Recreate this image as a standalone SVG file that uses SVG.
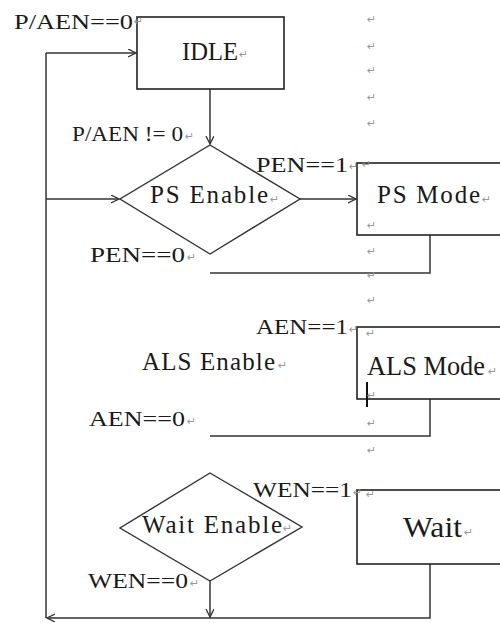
<svg xmlns="http://www.w3.org/2000/svg" width="500" height="623" viewBox="0 0 500 623">
<style>
.ln{fill:none;stroke:#333;stroke-width:1.5}
.bx{fill:#fff;stroke:#222;stroke-width:1.6}
.dm{fill:none;stroke:#333;stroke-width:1.4}
.lb{font-family:"Liberation Serif","Times New Roman",serif;fill:#1a1a1a;font-size:22px}
.nd{font-family:"Liberation Serif","Times New Roman",serif;fill:#1a1a1a;font-size:25px}
.big{font-family:"Liberation Serif","Times New Roman",serif;fill:#1a1a1a;font-size:29px}
.pm{font-family:"DejaVu Sans",sans-serif;fill:#999;font-size:11px}
</style>
<defs>
<marker id="ah" markerWidth="10" markerHeight="10" refX="8" refY="4" orient="auto" markerUnits="userSpaceOnUse">
<path d="M0,0 L8,4 L0,8" fill="none" stroke="#333" stroke-width="1.3"/>
</marker>
</defs>
<rect width="500" height="623" fill="#fff"/>

<g id="connectors">
<path class="ln" d="M46,53 H136" marker-end="url(#ah)"/>
<path class="ln" d="M210,89 V144" marker-end="url(#ah)"/>
<path class="ln" d="M46,199 H119" marker-end="url(#ah)"/>
<path class="ln" d="M300,199 H356" marker-end="url(#ah)"/>
<path class="ln" d="M430,235 V273 H210"/>
<path class="ln" d="M430,399 V436 H210"/>
<path class="ln" d="M210,581 V617" marker-end="url(#ah)"/>
<path class="ln" d="M430,564 V618 H47" marker-end="url(#ah)"/>
<path class="ln" d="M46,618 V53"/>
</g>

<g id="idle">
<rect class="bx" x="137" y="17" width="147" height="72"/>
<text class="nd" x="182" y="60" textLength="56" lengthAdjust="spacingAndGlyphs">IDLE</text>
</g>
<g id="ps-enable">
<path class="dm" d="M210,145 L300,199 L210,254 L120,199 Z"/>
<text class="nd" x="150" y="203" textLength="118" lengthAdjust="spacing">PS Enable</text>
</g>
<g id="ps-mode">
<rect class="bx" x="357" y="163" width="160" height="72"/>
<text class="nd" x="377" y="203" textLength="103" lengthAdjust="spacing">PS Mode</text>
</g>
<g id="als-enable">
<text class="nd" x="142" y="370" textLength="133" lengthAdjust="spacing">ALS Enable</text>
</g>
<g id="als-mode">
<rect class="bx" x="357" y="327" width="160" height="72"/>
<text class="big" x="367" y="375" style="font-size:26.5px" textLength="118" lengthAdjust="spacingAndGlyphs">ALS Mode</text>
<line x1="367" y1="382" x2="367" y2="407" stroke="#111" stroke-width="2"/>
</g>
<g id="wait-enable">
<path class="dm" d="M210,473 L302,527 L210,581 L120,528 Z"/>
<text class="nd" x="142" y="533" textLength="140" lengthAdjust="spacing">Wait Enable</text>
</g>
<g id="wait">
<rect class="bx" x="357" y="490" width="160" height="74"/>
<text class="big" x="403" y="537" textLength="59" lengthAdjust="spacingAndGlyphs">Wait</text>
</g>

<g id="labels">
<text class="lb" x="14" y="29" textLength="119" lengthAdjust="spacingAndGlyphs">P/AEN==0</text>
<text class="lb" x="72" y="141" textLength="111" lengthAdjust="spacingAndGlyphs">P/AEN != 0</text>
<text class="lb" x="256" y="172" textLength="92" lengthAdjust="spacingAndGlyphs">PEN==1</text>
<text class="lb" x="90" y="262" textLength="95" lengthAdjust="spacingAndGlyphs">PEN==0</text>
<text class="lb" x="256" y="334" textLength="92" lengthAdjust="spacingAndGlyphs">AEN==1</text>
<text class="lb" x="89" y="426" textLength="96" lengthAdjust="spacingAndGlyphs">AEN==0</text>
<text class="lb" x="253" y="497" textLength="99" lengthAdjust="spacingAndGlyphs">WEN==1</text>
<text class="lb" x="88" y="588" textLength="100" lengthAdjust="spacingAndGlyphs">WEN==0</text>
</g>

<g id="paragraph-marks">
<text class="pm" x="134" y="25">↵</text>
<text class="pm" x="239" y="58">↵</text>
<text class="pm" x="185" y="140">↵</text>
<text class="pm" x="349" y="170">↵</text>
<text class="pm" x="362" y="168">↵</text>
<text class="pm" x="270" y="203">↵</text>
<text class="pm" x="482" y="203">↵</text>
<text class="pm" x="187" y="261">↵</text>
<text class="pm" x="349" y="333">↵</text>
<text class="pm" x="366" y="337">↵</text>
<text class="pm" x="278" y="369">↵</text>
<text class="pm" x="488" y="375">↵</text>
<text class="pm" x="187" y="425">↵</text>
<text class="pm" x="353" y="496">↵</text>
<text class="pm" x="366" y="498">↵</text>
<text class="pm" x="283" y="532">↵</text>
<text class="pm" x="464" y="536">↵</text>
<text class="pm" x="190" y="587">↵</text>
<text class="pm" x="367" y="23">↵</text>
<text class="pm" x="367" y="50">↵</text>
<text class="pm" x="367" y="74">↵</text>
<text class="pm" x="367" y="101">↵</text>
<text class="pm" x="367" y="127">↵</text>
<text class="pm" x="367" y="229">↵</text>
<text class="pm" x="367" y="255">↵</text>
<text class="pm" x="367" y="279">↵</text>
<text class="pm" x="367" y="304">↵</text>
<text class="pm" x="367" y="399">↵</text>
<text class="pm" x="367" y="427">↵</text>
<text class="pm" x="367" y="454">↵</text>
</g>
</svg>
